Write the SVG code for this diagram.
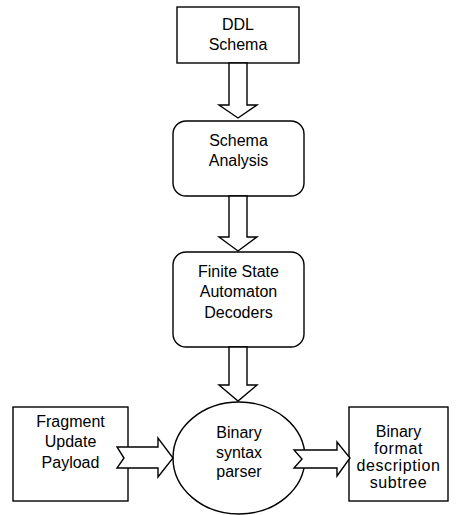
<svg xmlns="http://www.w3.org/2000/svg" width="457" height="515" viewBox="0 0 457 515">
<style>
.s{fill:#fff;stroke:#000;stroke-width:1.4}
.t{font-family:"Liberation Sans",Arial,sans-serif;font-size:16px;fill:#000;text-anchor:middle}
</style>
<rect width="457" height="515" fill="#fff"/>
<g id="ddl-schema">
<rect class="s" x="177" y="7" width="122" height="56"/>
<text class="t" x="238" y="30">DDL</text>
<text class="t" x="238" y="50">Schema</text>
</g>
<g id="schema-analysis">
<rect class="s" x="173" y="121" width="131" height="75" rx="13" ry="13"/>
<text class="t" x="238.5" y="146">Schema</text>
<text class="t" x="238.5" y="166">Analysis</text>
</g>
<g id="fsa-decoders">
<rect class="s" x="173" y="252" width="131" height="95" rx="13" ry="13"/>
<text class="t" x="238.5" y="277">Finite State</text>
<text class="t" x="238.5" y="297">Automaton</text>
<text class="t" x="238.5" y="318">Decoders</text>
</g>
<g id="binary-syntax-parser">
<ellipse class="s" cx="239" cy="458" rx="66" ry="56"/>
<text class="t" x="239" y="438">Binary</text>
<text class="t" x="239" y="458">syntax</text>
<text class="t" x="239" y="477">parser</text>
</g>
<g id="fragment-update-payload">
<rect class="s" x="13" y="407" width="115" height="94"/>
<text class="t" x="70.5" y="427">Fragment</text>
<text class="t" x="70.5" y="447">Update</text>
<text class="t" x="70.5" y="468">Payload</text>
</g>
<g id="binary-format-subtree">
<rect class="s" x="349" y="407" width="99" height="94"/>
<text class="t" x="398.5" y="437">Binary</text>
<text class="t" x="398.5" y="454" letter-spacing="0.6">format</text>
<text class="t" x="398.5" y="471" letter-spacing="0.6">description</text>
<text class="t" x="398.5" y="488" letter-spacing="0.6">subtree</text>
</g>
<g id="connectors">
<polygon class="s" points="229,63 247,63 247,105 257,105 238,118 219,105 229,105"/>
<polygon class="s" points="229,196 247,196 247,237 257,237 238,251 219,237 229,237"/>
<polygon class="s" points="229,347 247,347 247,385 257,385 238,401 219,385 229,385"/>
<polygon class="s" points="117,447 158,447 158,438 173,458 158,477 158,468 117,468 124,458"/>
<polygon class="s" points="294,450 337,450 337,442 350,458 337,476 337,468 294,468 302,459"/>
</g>
</svg>
